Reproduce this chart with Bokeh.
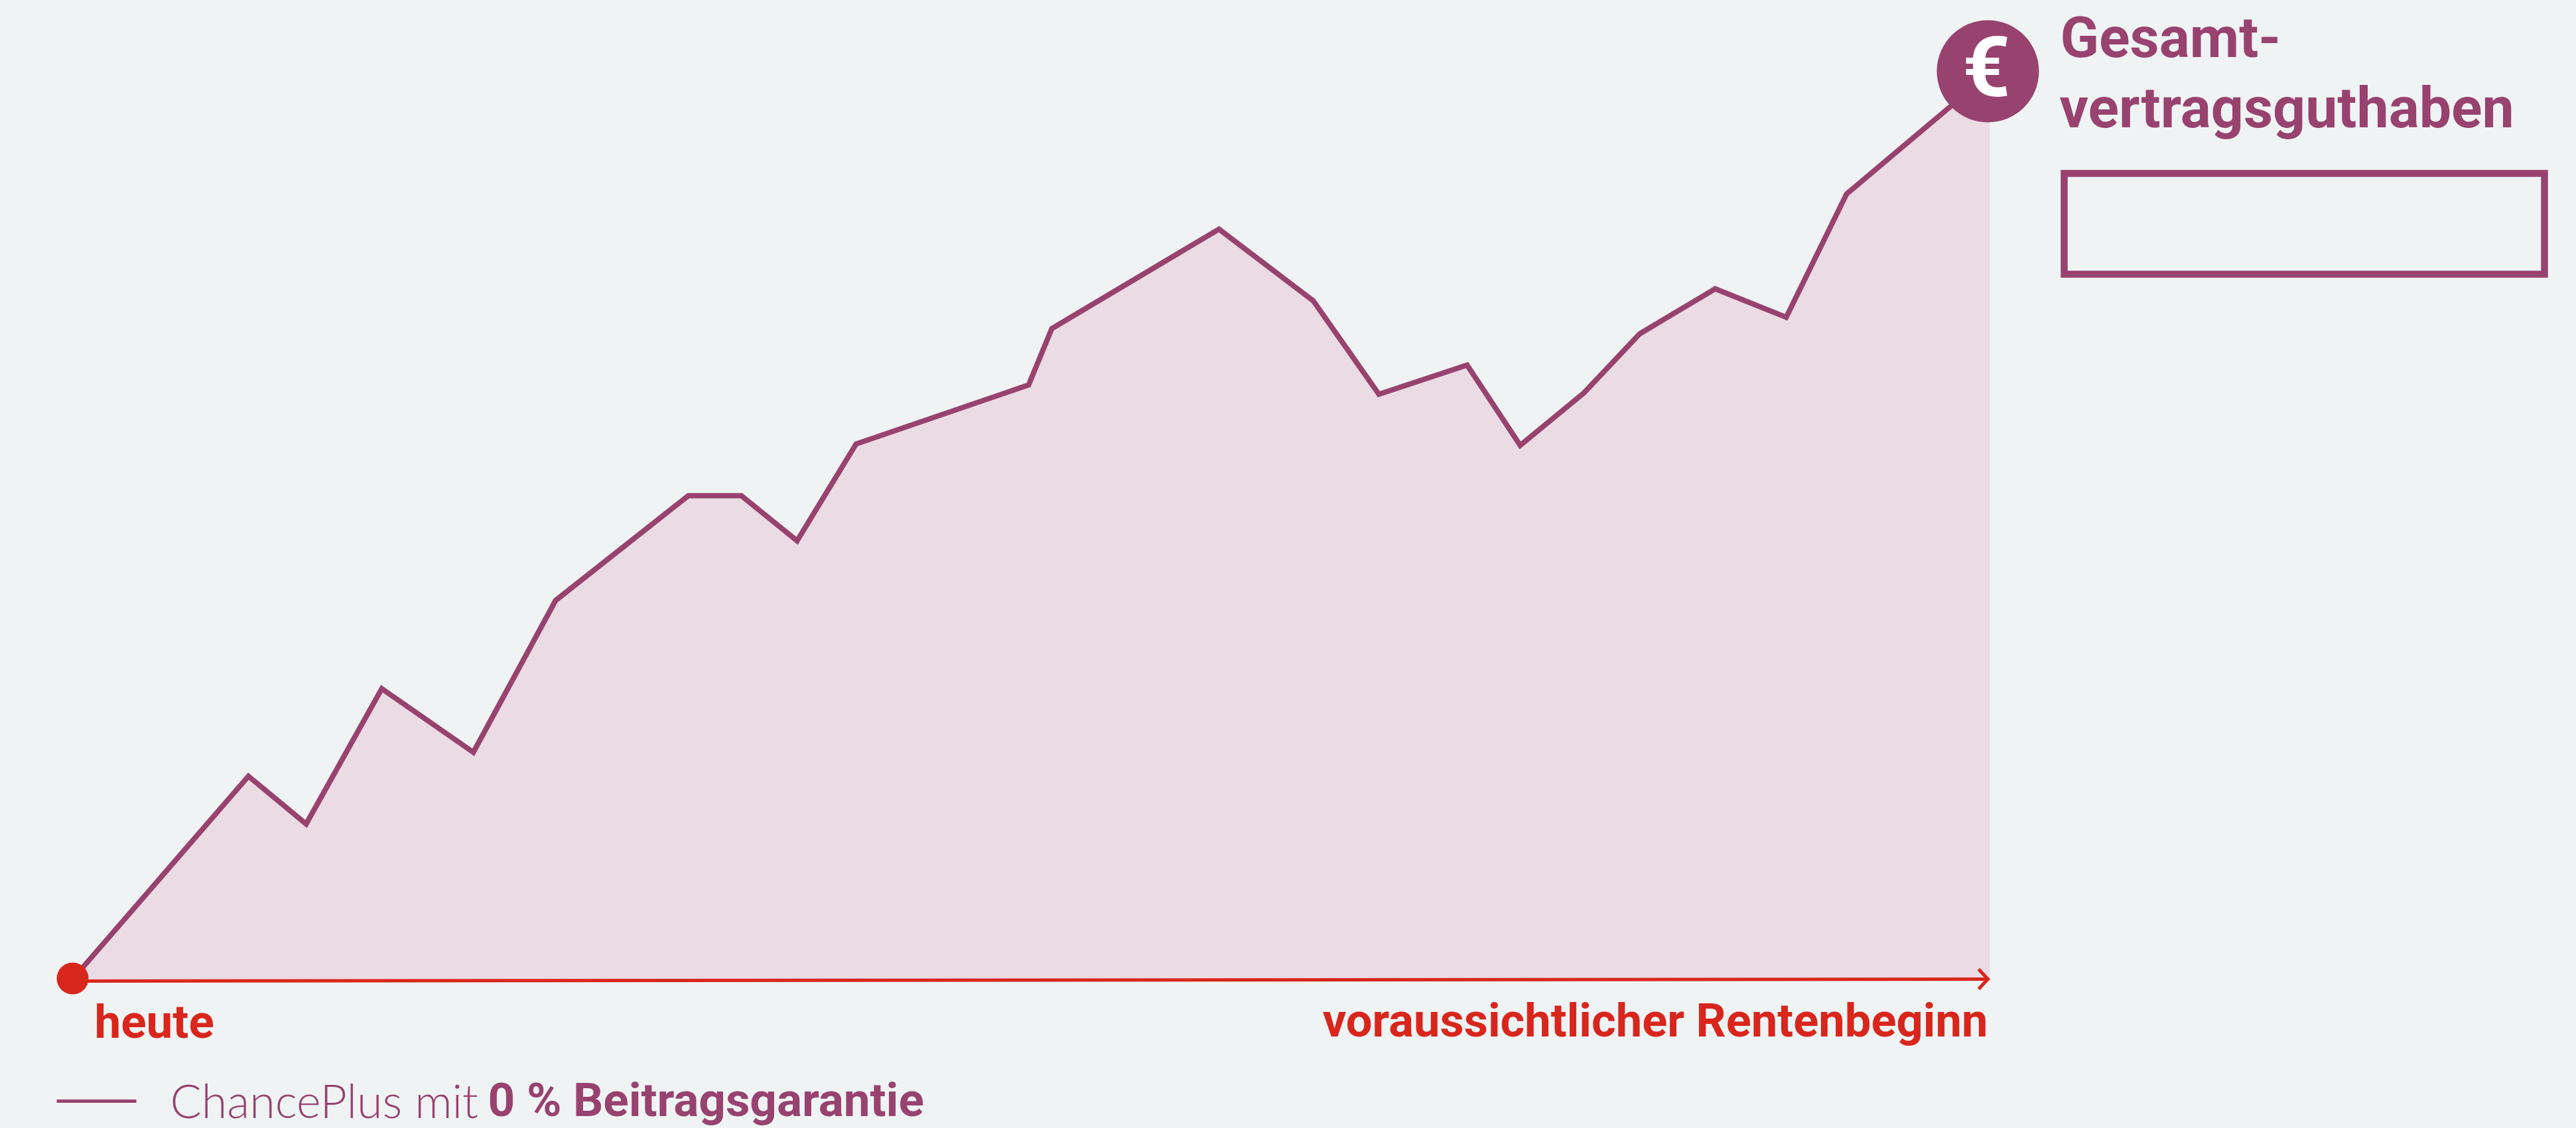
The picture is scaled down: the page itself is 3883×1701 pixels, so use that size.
from bokeh.plotting import figure
from bokeh.embed import file_html
from bokeh.resources import INLINE
from bokeh.models import Range1d
from bokeh.core.properties import value

# Series (time position, contract value above the axis)
time_pos = [109, 374, 461, 575, 713, 837, 1037, 1117, 1201, 1290, 1550, 1585, 1837, 1979, 2078, 2211, 2291, 2387, 2471, 2585, 2692, 2783, 2942, 2996]
contract_value = [0, 306, 234, 438, 342, 571, 729, 729, 661, 807, 896, 981, 1131, 1023, 882, 926, 805, 884, 973, 1041, 998, 1184, 1318, 1369]

AXIS_END = 2999
AREA_COL, LINE_COL, RED, BG = "#ebdbe5", "#98426f", "#d9261c", "#eff3f4"

p = figure(width=3883, height=1701, output_backend="svg", toolbar_location=None,
           x_range=Range1d(0, 3883), y_range=Range1d(-225, 1476),
           min_border=0, background_fill_color=BG, border_fill_color=BG, outline_line_color=None)
p.axis.visible = False
p.grid.visible = False

# area under the line, closed along the axis
p.varea(x=time_pos + [AXIS_END], y1=[-3] * 25, y2=contract_value + [contract_value[-1]], fill_color=AREA_COL)
p.line(time_pos, contract_value, line_color=LINE_COL, line_width=8, line_join="miter")

# time axis and arrow
p.line([109, AXIS_END - 2], [-3, 0], line_color=RED, line_width=5)
p.line([2982, 2996, 2982], [15, 0, -15], line_color=RED, line_width=5, line_join="miter")
p.scatter([109], [1], size=48, marker="circle", fill_color=RED, line_color=None)

# end marker
p.scatter([2996], [1369], size=154, marker="circle", fill_color=LINE_COL, line_color=None)
HEAD = value("Roboto")
def label(x, y, s, size, color, font=HEAD, style="bold", align="left"):
    p.text([x], [y + 0.4 * size], text=[s], text_font=font, text_font_style=style, text_font_size=f"{size}px",
           text_color=color, text_align=align, text_baseline="alphabetic")

label(2994, 1324, "€", 126, "#ffffff", align="center")
label(3105, 1386, "Gesamt-", 86, LINE_COL)
label(3104, 1280, "vertragsguthaben", 86, LINE_COL)
p.rect([3473], [1139], width=[724], height=[152], fill_color=None, line_color=LINE_COL, line_width=10.5, line_join="miter")

label(142, -92, "heute", 71, RED)
label(2996, -91, "voraussichtlicher Rentenbeginn", 70.5, RED, align="right")

# legend
p.line([85, 205], [-184, -184], line_color=LINE_COL, line_width=5)
label(256, -210, "ChancePlus mit ", 70, LINE_COL, font=value("Lato Light"), style="normal")
label(735, -210, "0 % Beitragsgarantie", 71, LINE_COL)

html = file_html(p, INLINE)
html = html.replace("<head>", "<head><style>html,body{background:%s;margin:0;overflow:hidden}</style>" % BG, 1)
open("out.html", "w").write(html)
